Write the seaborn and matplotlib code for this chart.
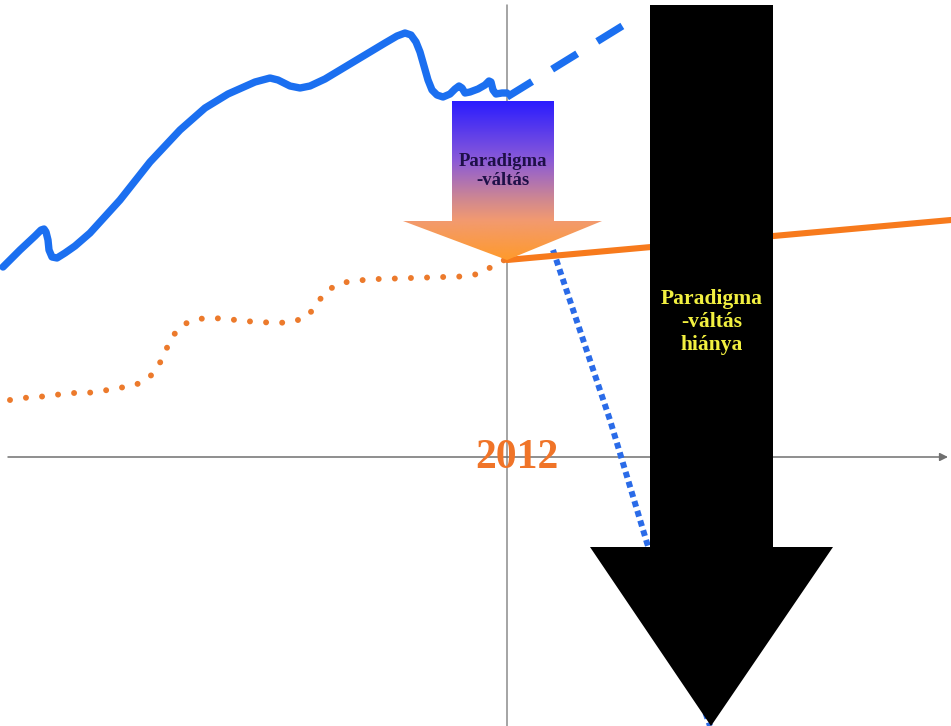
import numpy as np
import pandas as pd
import matplotlib
matplotlib.use("Agg")
import matplotlib.pyplot as plt
from matplotlib.patches import Polygon
from matplotlib.colors import LinearSegmentedColormap
import seaborn as sns

# === data (in image pixel units, y grows downward) ===
blue_x = [3, 20, 35, 41, 44, 46, 48, 49, 52, 57, 65, 75, 90, 120, 150, 180, 205, 228,
          255, 270, 278, 290, 300, 310, 325, 340, 365, 385, 397, 405, 411, 416, 420,
          424, 428, 432, 437, 443, 450, 455, 459, 462, 465, 470, 478, 485, 489, 491,
          493, 496, 502, 507]
blue_y = [267, 250, 236, 230, 229, 232, 240, 250, 257, 258, 253, 246, 233, 200, 162, 130, 108, 94,
          82, 78, 80, 86, 88, 86, 79, 70, 55, 43, 36, 33, 35, 42, 52,
          66, 80, 90, 95, 97, 94, 89, 86, 88, 93, 92, 89, 85, 81, 82,
          90, 94, 93, 93]

blue_dash_x = [507, 632]
blue_dash_y = [97, 20]

blue_dot_x = [553, 610, 647, 710]
blue_dot_y = [250, 420, 543, 726]

orange_dot_x = [10, 22, 38, 55, 70, 87, 102, 118, 133, 148, 158, 165, 172, 182, 197,
                212, 228, 243, 260, 277, 292, 307, 317, 325, 340, 355, 372, 388, 403,
                420, 435, 452, 468, 482, 497, 507]
orange_dot_y = [400, 398, 397, 395, 393, 393, 391, 388, 386, 379, 367, 352, 337, 325, 319,
                318, 319, 321, 322, 323, 322, 317, 304, 292, 283, 281, 279, 279, 278,
                278, 277, 277, 276, 273, 263, 259]

orange_line_x = [507, 951]
orange_line_y = [260, 220]

# arrow outlines (shaft left, shaft right, head y, head left, head right, tip)
shift_arrow = dict(top=101, left=452, right=554, head=221, hl=403, hr=602, tip=(507, 260))
no_shift_arrow = dict(top=5, left=650, right=773, head=547, hl=590, hr=833, tip=(711, 726))

year_label = "2012"
shift_label = "Paradigma\n-váltás"
no_shift_label = "Paradigma\n-váltás\nhiánya"


def arrow_poly(a):
    return [(a["left"], a["top"]), (a["right"], a["top"]), (a["right"], a["head"]),
            (a["hr"], a["head"]), a["tip"], (a["hl"], a["head"]), (a["left"], a["head"])]


sns.set_style("white")
plt.rcParams['font.family'] = ['Liberation Serif', 'DejaVu Serif']

fig = plt.figure(figsize=(9.51, 7.26), dpi=100)
ax = fig.add_axes([0, 0, 1, 1])
ax.set_xlim(0, 951)
ax.set_ylim(726, 0)
ax.set_axis_off()

# === axes lines ===
ax.plot([507, 507], [5, 726], color="#8c8c8c", lw=1.1, zorder=1)
ax.annotate("", xy=(948, 457), xytext=(8, 457),
            arrowprops=dict(arrowstyle="-|>", color="#707070", lw=1.1,
                            mutation_scale=12, shrinkA=0, shrinkB=0), zorder=1)

# === series ===
sns.lineplot(x=blue_x, y=blue_y, ax=ax, sort=False, estimator=None,
             color="#1b6ff0", lw=5.3, solid_capstyle="round", solid_joinstyle="round", zorder=2)
sns.lineplot(x=blue_dash_x, y=blue_dash_y, ax=ax, sort=False, estimator=None,
             color="#1b6ff0", lw=5.3, linestyle=(0, (4.0, 3.2)), zorder=2)
sns.lineplot(x=blue_dot_x, y=blue_dot_y, ax=ax, sort=False, estimator=None,
             color="#2a6be8", lw=4.3, linestyle=(0, (1.0, 0.7)), zorder=2)
sns.lineplot(x=orange_dot_x, y=orange_dot_y, ax=ax, sort=False, estimator=None,
             color="#ec7a2c", lw=4.3, linestyle=(0, (0.001, 2.7)),
             dash_capstyle="round", zorder=2)
sns.lineplot(x=orange_line_x, y=orange_line_y, ax=ax, sort=False, estimator=None,
             color="#f77a1c", lw=4.4, zorder=2)

# === gradient arrow (paradigm shift) ===
poly = Polygon(arrow_poly(shift_arrow), closed=True, facecolor="none", edgecolor="none")
ax.add_patch(poly)
cmap = LinearSegmentedColormap.from_list(
    "shift", [(0, "#2a1cff"), (0.37, "#8a5ad8"), (0.62, "#d08890"),
              (0.75, "#f29a70"), (1, "#ff9a2c")])
grad = np.linspace(0, 1, 256).reshape(-1, 1)
im = ax.imshow(grad, cmap=cmap, aspect="auto", interpolation="bicubic",
               extent=(shift_arrow["hl"], shift_arrow["hr"], shift_arrow["tip"][1], shift_arrow["top"]),
               origin="upper", zorder=3)
im.set_clip_path(poly)
ax.set_xlim(0, 951)
ax.set_ylim(726, 0)

# === black arrow (no paradigm shift) ===
ax.add_patch(Polygon(arrow_poly(no_shift_arrow), closed=True, facecolor="black",
                     edgecolor="none", zorder=4))

# === labels ===
ax.text(503, 171, shift_label, ha="center", va="center", fontsize=13.5,
        fontweight="bold", color="#1e1048", linespacing=1.15, zorder=5)
ax.text(712, 322, no_shift_label, ha="center", va="center", fontsize=15.5,
        fontweight="bold", color="#f2f040", linespacing=1.2, zorder=5)
ax.text(517, 458, year_label, ha="center", va="center", fontsize=30,
        fontweight="bold", color="#f07428", zorder=5)

fig.savefig("out.png", dpi=100)
